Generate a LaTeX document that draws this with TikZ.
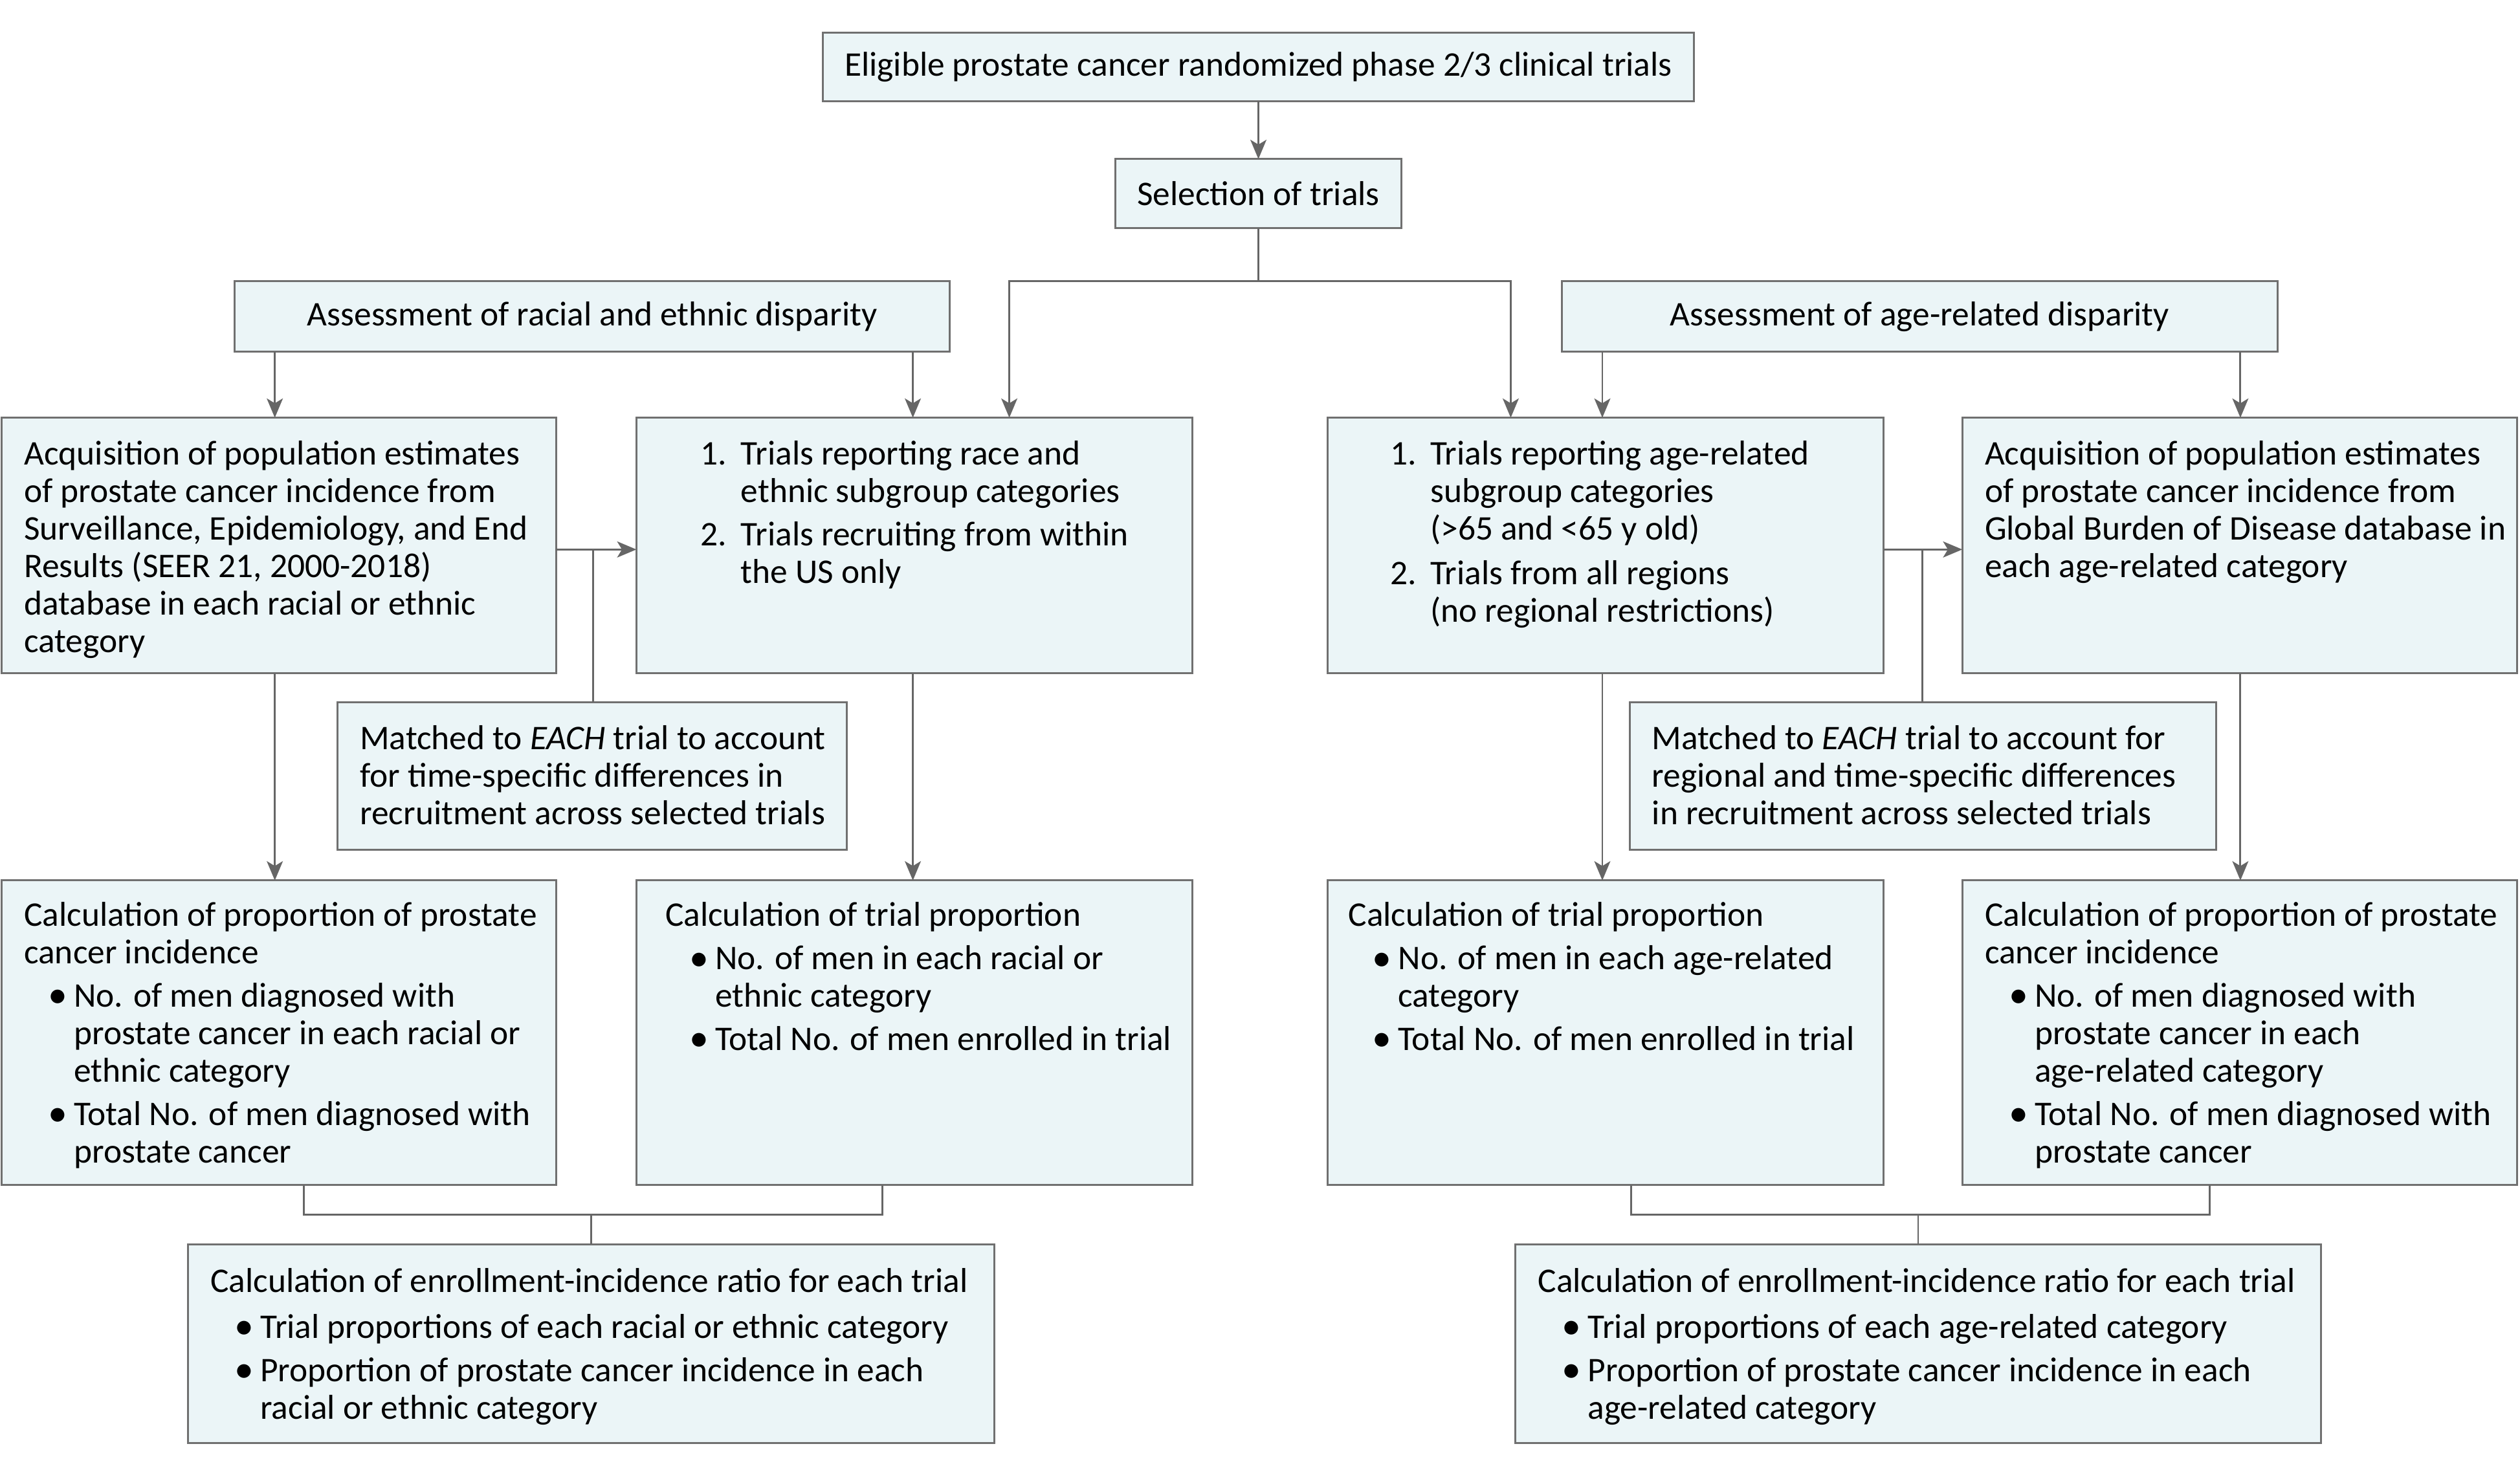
\documentclass[tikz,border=0pt]{standalone}
\usepackage{fontspec}
\setmainfont{Carlito}
\usetikzlibrary{arrows.meta}
\definecolor{boxfill}{HTML}{EBF5F7}
\definecolor{boxline}{HTML}{707070}
\definecolor{connline}{HTML}{666666}
\newcommand{\fs}{\fontsize{10.75pt}{11.65pt}\selectfont}
\newcommand{\bigbul}{\raisebox{-0.05ex}{\scalebox{1.12}{\textbullet}}}
\newcommand{\bitem}[1]{\hspace*{7.5pt}\makebox[8pt][l]{\bigbul}#1}
\newcommand{\cnt}{\hspace*{15.5pt}}
\newcommand{\nitem}[2]{\makebox[12.5pt][l]{#1}#2}
\newcommand{\ncnt}{\hspace*{12.5pt}}
\newcommand{\txt}[1]{\parbox[t]{300pt}{\fs\raggedright\setlength{\parindent}{0pt}#1}}
\tikzset{
  box/.style={draw=boxline, fill=boxfill, line width=0.6pt, inner sep=0pt, outer sep=0pt, anchor=north west, font=\fs, align=center},
  lbl/.style={inner sep=0pt, outer sep=0pt, anchor=base west},
  conn/.style={draw=connline, line width=0.6pt},
  arr/.style={conn, -{Stealth[length=6pt,width=5pt,inset=1.5pt]}},
}
\newcommand{\mkbox}[6]{\node[box, minimum width={(#4-#2)*0.5pt}, minimum height={(#5-#3)*0.5pt}] (#1) at (#2,#3) {#6};}
\begin{document}
\begin{tikzpicture}[x=0.5pt, y=-0.5pt]
\useasboundingbox (0,0) rectangle (1568,919.2);
% boxes
\mkbox{A}{512}{20.5}{1054}{63}{Eligible prostate cancer randomized phase 2/3 clinical trials}
\mkbox{B}{694}{99}{872}{142}{Selection of trials}
\mkbox{C}{146}{175}{591}{219}{Assessment of racial and ethnic disparity}
\mkbox{D}{972}{175}{1417}{219}{Assessment of age-related disparity}
\mkbox{E}{1}{260}{346}{419}{}
\mkbox{F}{396}{260}{742}{419}{}
\mkbox{G}{826}{260}{1172}{419}{}
\mkbox{H}{1221}{260}{1566}{419}{}
\mkbox{I}{210}{437}{527}{529}{}
\mkbox{J}{1014}{437}{1379}{529}{}
\mkbox{K}{1}{548}{346}{737.5}{}
\mkbox{L}{396}{548}{742}{737.5}{}
\mkbox{M}{826}{548}{1172}{737.5}{}
\mkbox{N}{1221}{548}{1566}{737.5}{}
\mkbox{O}{117}{774.5}{618.5}{898}{}
\mkbox{P}{943}{774.5}{1444}{898}{}
% texts
\node[lbl] (Et) at (15,289.5) {\txt{Acquisition of population estimates\\ of prostate cancer incidence from\\ Surveillance, Epidemiology, and End\\ Results (SEER 21, 2000-2018)\\ database in each racial or ethnic\\ category}};
\node[lbl] (Ft) at (436,289.5) {\txt{\nitem{1.}{Trials reporting race and}\\ \ncnt ethnic subgroup categories\\[1.85pt] \nitem{2.}{Trials recruiting from within}\\ \ncnt the US only}};
\node[lbl] (Gt) at (865,289.5) {\txt{\nitem{1.}{Trials reporting age-related}\\ \ncnt subgroup categories\\ \ncnt (>65 and <65 y old)\\[2.3pt] \nitem{2.}{Trials from all regions}\\ \ncnt (no regional restrictions)}};
\node[lbl] (Ht) at (1235,289.5) {\txt{Acquisition of population estimates\\ of prostate cancer incidence from\\ Global Burden of Disease database in\\ each age-related category}};
\node[lbl] (It) at (224,466.5) {\txt{Matched to \textit{EACH} trial to account\\ for time-specific differences in\\ recruitment across selected trials}};
\node[lbl] (Jt) at (1028,466.5) {\txt{Matched to \textit{EACH} trial to account for\\ regional and time-specific differences\\ in recruitment across selected trials}};
\node[lbl] (Kt) at (15,576.5) {\txt{Calculation of proportion of prostate\\ cancer incidence\\[1.85pt] \bitem{No. of men diagnosed with}\\ \cnt prostate cancer in each racial or\\ \cnt ethnic category\\[1.85pt] \bitem{Total No. of men diagnosed with}\\ \cnt prostate cancer}};
\node[lbl] (Lt) at (414,576.5) {\txt{Calculation of trial proportion\\[1.85pt] \bitem{No. of men in each racial or}\\ \cnt ethnic category\\[1.85pt] \bitem{Total No. of men enrolled in trial}}};
\node[lbl] (Mt) at (839,576.5) {\txt{Calculation of trial proportion\\[1.85pt] \bitem{No. of men in each age-related}\\ \cnt category\\[1.85pt] \bitem{Total No. of men enrolled in trial}}};
\node[lbl] (Nt) at (1235,576.5) {\txt{Calculation of proportion of prostate\\ cancer incidence\\[1.85pt] \bitem{No. of men diagnosed with}\\ \cnt prostate cancer in each\\ \cnt age-related category\\[1.85pt] \bitem{Total No. of men diagnosed with}\\ \cnt prostate cancer}};
\node[lbl] (Ot) at (131,804.5) {\txt{Calculation of enrollment-incidence ratio for each trial\\[2.5pt] \bitem{Trial proportions of each racial or ethnic category}\\[1.85pt] \bitem{Proportion of prostate cancer incidence in each}\\ \cnt racial or ethnic category}};
\node[lbl] (Pt) at (957,804.5) {\txt{Calculation of enrollment-incidence ratio for each trial\\[2.5pt] \bitem{Trial proportions of each age-related category}\\[1.85pt] \bitem{Proportion of prostate cancer incidence in each}\\ \cnt age-related category}};
% connectors
\draw[arr] (A) -- (B);
\draw[arr] (B.south) -- ++(0,-16.5pt) -| ([xshift=116pt]F.north west);
\draw[arr] (B.south) -- ++(0,-16.5pt) -| ([xshift=57pt]G.north west);
\draw[arr] ([xshift=12.5pt]C.south west) -- ([xshift=85pt]E.north west);
\draw[arr] ([xshift=-11.5pt]C.south east) -- ([xshift=86pt]F.north west);
\draw[arr] ([xshift=12.5pt]D.south west) -- ([xshift=85.5pt]G.north west);
\draw[arr] ([xshift=-11.5pt]D.south east) -- ([xshift=86.5pt]H.north west);
\draw[arr] ([yshift=-1.25pt]E.east) -- ([yshift=-1.25pt]F.west);
\draw[conn] ([xshift=79.5pt]I.north west) -- ++(0,47.5pt);
\draw[arr] ([yshift=-1.25pt]G.east) -- ([yshift=-1.25pt]H.west);
\draw[conn] ([xshift=91pt]J.north west) -- ++(0,47.5pt);
\draw[arr] ([xshift=85pt]E.south west) -- ([xshift=85pt]K.north west);
\draw[arr] ([xshift=86pt]F.south west) -- ([xshift=86pt]L.north west);
\draw[arr] ([xshift=85.5pt]G.south west) -- ([xshift=85.5pt]M.north west);
\draw[arr] ([xshift=86.5pt]H.south west) -- ([xshift=86.5pt]N.north west);
\draw[conn] ([xshift=94pt]K.south west) -- ++(0,-9.25pt) -| ([xshift=76.5pt]L.south west);
\draw[conn] (O.north) -- ++(0,9.25pt);
\draw[conn] ([xshift=94.5pt]M.south west) -- ++(0,-9.25pt) -| ([xshift=77pt]N.south west);
\draw[conn] (P.north) -- ++(0,9.25pt);
\end{tikzpicture}
\end{document}
